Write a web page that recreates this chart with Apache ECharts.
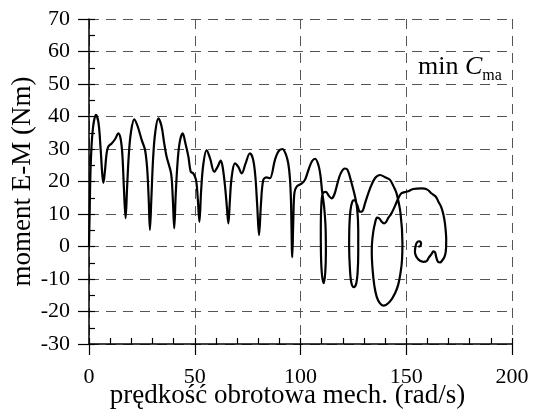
<!DOCTYPE html>
<html>
<head>
<meta charset="utf-8">
<script src="https://cdn.jsdelivr.net/npm/echarts@6/dist/echarts.min.js"></script>
<style>
html,body{margin:0;padding:0;background:#fff;}
#chart{width:535px;height:412px;}
</style>
</head>
<body>
<div id="chart"></div>
<script>
// speed (rad/s) vs torque (Nm) trajectory, in drawing order
const speed = [0,0.3,0.8,1.8,3.3,4.5,5.5,6.3,6.8,7.5,8.3,9.1,10.7,12.3,13.9,15,15.8,16.5,17.3,18,18.8,19.8,21.4,23,24.9,26.5,27.5,28.2,28.8,29.5,30.3,31.3,32.8,34.3,35.5,36.7,38.8,39.6,40.3,41,42,43,44.3,45.5,47,48.1,49.3,50.6,51.4,52.2,53,54,55.6,57.3,59.2,60.8,62.3,63.3,64.4,65.2,65.9,66.6,67.4,69,70.6,72.2,74,76.1,77.5,78.6,79.5,80.4,81.3,82.4,84,85.5,87.9,89.5,91.4,93,94.2,95,95.5,96.1,96.6,97.1,98.2,100.6,102.1,104,105.5,106.9,108.5,109.5,110.2,111.2,111.9,112,111.7,111,110.2,109.7,109.6,109.8,110.5,112,113.5,114.7,116,117.5,119,121,122.3,124.2,125.8,126.8,127.3,127.3,127,126.3,125.2,124,123.3,123,123.1,123.6,124.5,125.5,126.8,128.1,129.2,130.5,132.9,135.2,137.6,140,142.3,144,145.4,147.3,148.2,148,147.5,146.3,144.7,142.2,139.2,137.5,136,134.9,134.1,133.7,133.8,134.4,135.2,136.2,137.3,138.4,139.5,140.5,141.5,143,144.7,146.2,147.8,150.5,153.3,157.3,160,162,164,165.2,166.5,167.5,168.3,168.9,168.7,168,167,166,165,164.2,163.6,162.8,162,160.8,159.6,158,156.5,155.2,154.4,154.1,154.6,155.4,156.3,157,156.8,156.2,155.7];
const torque = [0,10,25,36,40.5,38,30,22,19.6,23,28.5,30.7,31.7,33,34.8,33,28,18,8.7,18,28,35,39.1,37,32.8,29.7,24,15,5.1,15,27,35,39.4,37,32,27.6,22.5,15,5.6,16,27,32.5,34.8,32,27.6,23,22.5,20.5,15,7.6,17,25,29.7,27,23,24.5,26.4,24,18,12,7.1,14,21,25.6,24.5,22.5,25.5,28.7,27,22,13,3.5,13,20.5,21.3,21,26.6,29.2,30,28.5,25.6,21,14,-3.3,8,16.4,18.4,19.4,20.5,24,26.3,27,25,21.5,17,12,5,-2,-8,-11.3,-9,-3,5,12,16.3,16.8,15.5,14.8,16,19.5,22.5,24,23.5,19.4,15.3,11.5,5,-2,-8,-11.5,-12.5,-11,-6,0,6,11,13.8,14.3,12.8,10.7,10.8,13.3,17.9,21,22,21.3,20.5,18.5,16.4,10.2,0.9,-4,-7.2,-11.5,-14.4,-17,-18.2,-17.4,-15.4,-12,-7.2,-2,0.9,4.5,7.1,8.9,8.6,7.6,7.1,7.6,8.8,10.2,12.5,14.8,16.4,16.9,17.7,17.9,17.5,16.3,15.3,13.8,12.2,10,7.1,2,-1.5,-3.3,-4.3,-4.9,-4.7,-3.3,-1.8,-1.5,-2.3,-3.3,-4.5,-4.7,-4.4,-3.6,-2.6,-1.5,0.6,1.5,1.6,1,0.3,0,0];
const xTicks = [0,50,100,150,200];
const yTicks = [-30,-20,-10,0,10,20,30,40,50,60,70];
const xTitle = 'prędkość obrotowa mech. (rad/s)';
const yTitle = 'moment E-M (Nm)';

const points = speed.map((s, i) => [s, torque[i]]);
const FONT = 'Liberation Serif';
const gridDash = {color: '#555', width: 1, type: [10, 7]};

const chart = echarts.init(document.getElementById('chart'), null, {renderer: 'canvas'});
chart.setOption({
  animation: false,
  backgroundColor: '#fff',
  grid: {left: 89, right: 23, top: 19, bottom: 68, containLabel: false, outerBoundsMode: 'none'},
  title: {
    text: 'min {i|C}{s|ma}',
    left: 413, top: 49,
    textStyle: {
      fontFamily: FONT, fontSize: 26, fontWeight: 'normal', color: '#000',
      rich: {
        i: {fontFamily: FONT, fontSize: 26, fontStyle: 'italic', color: '#000'},
        s: {fontFamily: FONT, fontSize: 16, color: '#000', verticalAlign: 'bottom', padding: [0, 0, -4, 0]}
      }
    }
  },
  xAxis: [{
    type: 'value', min: xTicks[0], max: xTicks[xTicks.length - 1], interval: 50,
    name: xTitle, nameLocation: 'middle', nameGap: 38, nameMoveOverlap: false,
    nameTextStyle: {fontFamily: FONT, fontSize: 27, color: '#000', padding: [0, 26, 0, 0]},
    axisLine: {show: true, onZero: false, lineStyle: {color: '#000', width: 1.5}},
    axisTick: {show: true, inside: false, length: 11, lineStyle: {color: '#000', width: 1.2}},
    axisLabel: {fontFamily: FONT, fontSize: 22, color: '#000', margin: 22},
    splitLine: {show: true, lineStyle: gridDash}
  }, {
    type: 'value', min: 0, max: 200, interval: 10, position: 'bottom',
    axisLine: {show: false, onZero: false}, axisLabel: {show: false}, splitLine: {show: false},
    axisTick: {show: true, inside: true, length: 6, lineStyle: {color: '#000', width: 1.2}}
  }],
  yAxis: [{
    type: 'value', min: yTicks[0], max: yTicks[yTicks.length - 1], interval: 10,
    name: yTitle, nameLocation: 'middle', nameGap: 53, nameRotate: 90, nameMoveOverlap: false,
    nameTextStyle: {fontFamily: FONT, fontSize: 27, color: '#000'},
    axisLine: {show: true, onZero: false, lineStyle: {color: '#000', width: 1.5}},
    axisTick: {show: true, inside: false, length: 11, lineStyle: {color: '#000', width: 1.2}},
    axisLabel: {fontFamily: FONT, fontSize: 22, color: '#000', margin: 19},
    splitLine: {show: true, lineStyle: gridDash}
  }, {
    type: 'value', min: -30, max: 70, interval: 5, position: 'left',
    axisLine: {show: false, onZero: false}, axisLabel: {show: false}, splitLine: {show: false},
    axisTick: {show: true, inside: true, length: 6, lineStyle: {color: '#000', width: 1.2}}
  }],
  series: [{
    type: 'line', xAxisIndex: 0, yAxisIndex: 0,
    data: points, showSymbol: false, smooth: 0.35,
    lineStyle: {color: '#000', width: 2.2},
    clip: true
  }]
});
</script>
</body>
</html>
